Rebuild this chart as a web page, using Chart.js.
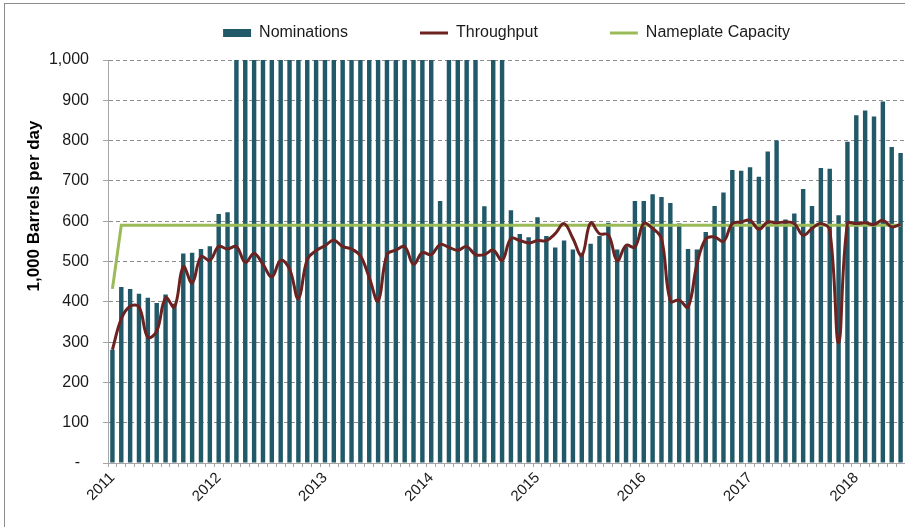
<!DOCTYPE html>
<html lang="en">

<head>
    <meta charset="UTF-8">
    <title>Nominations, Throughput and Nameplate Capacity</title>
    <script src="https://cdn.jsdelivr.net/npm/chart.js"></script>
    <style>
        body { margin: 0; background: #fff; }
    </style>
</head>

<body>
    <canvas id="pipelineChart" width="905" height="527"></canvas>

    <script>
        // monthly, Jan 2011 - Jun 2018
        const years = [2011, 2012, 2013, 2014, 2015, 2016, 2017, 2018];
        const monthNames = ['Jan', 'Feb', 'Mar', 'Apr', 'May', 'Jun', 'Jul', 'Aug', 'Sep', 'Oct', 'Nov', 'Dec'];
        const monthCount = 90;

        // 1,000 bbl/d - bars above 1,000 are cut at the top of the axis
        const nominations = [
            281, 437, 432, 420, 410, 397, 418, 395, 520, 522, 531, 538,
            618, 622, 1000, 1000, 1000, 1000, 1000, 1000, 1000, 1000, 1000, 1000,
            1000, 1000, 1000, 1000, 1000, 1000, 1000, 1000, 1000, 1000, 1000, 1000,
            1000, 650, 1000, 1000, 1000, 1000, 637, 1000, 1000, 627, 568, 560,
            610, 563, 535, 552, 530, 522, 544, 563, 596, 530, 537, 650,
            650, 667, 660, 645, 594, 531, 530, 573, 638, 671, 727, 725,
            734, 710, 773, 800, 604, 619, 680, 638, 732, 730, 615, 797,
            863, 875, 860, 897, 784, 769
        ];
        const throughput = [
            281, 358, 389, 387, 312, 327, 410, 387, 487, 447, 512, 503,
            537, 531, 537, 498, 520, 493, 462, 503, 481, 408, 505, 527,
            539, 553, 537, 531, 514, 460, 402, 517, 528, 537, 493, 522,
            517, 542, 535, 528, 537, 517, 517, 528, 503, 557, 552, 546,
            552, 552, 569, 594, 557, 515, 596, 569, 566, 502, 540, 536,
            594, 582, 557, 402, 404, 387, 493, 556, 561, 550, 594, 598,
            602, 580, 598, 596, 598, 594, 565, 582, 594, 577, 298, 594,
            594, 596, 592, 602, 586, 592
        ];
        const nameplateCapacity = [
            432, 590, 590, 590, 590, 590, 590, 590, 590, 590, 590, 590,
            590, 590, 590, 590, 590, 590, 590, 590, 590, 590, 590, 590,
            590, 590, 590, 590, 590, 590, 590, 590, 590, 590, 590, 590,
            590, 590, 590, 590, 590, 590, 590, 590, 590, 590, 590, 590,
            590, 590, 590, 590, 590, 590, 590, 590, 590, 590, 590, 590,
            590, 590, 590, 590, 590, 590, 590, 590, 590, 590, 590, 590,
            590, 590, 590, 590, 590, 590, 590, 590, 590, 590, 590, 590,
            590, 590, 590, 590, 590, 590
        ];
        const yTicks = [0, 100, 200, 300, 400, 500, 600, 700, 800, 900, 1000];
        const yTitle = '1,000 Barrels per day';

        const months = [];
        years.forEach(y => monthNames.forEach(m => months.push(m + ' ' + y)));
        months.length = monthCount;

        Chart.defaults.font.family = '"Liberation Sans", Arial, sans-serif';
        Chart.defaults.color = '#1a1a1a';

        // extra room under the legend
        const legendGap = {
            id: 'legendGap',
            beforeInit(chart) {
                const fit = chart.legend.fit;
                chart.legend.fit = function () {
                    fit.call(this);
                    this.height += 9;
                };
            }
        };

        // outer frame + y title sitting a bit above the middle like the original
        const frameAndTitle = {
            id: 'frameAndTitle',
            beforeDraw(chart) {
                const ctx = chart.ctx;
                ctx.save();
                ctx.strokeStyle = '#8c8c8c';
                ctx.lineWidth = 1;
                ctx.strokeRect(4.5, 3.5, 1000, 1000);
                ctx.restore();
            },
            afterDraw(chart) {
                const ctx = chart.ctx;
                ctx.save();
                ctx.translate(34, 206);
                ctx.rotate(-Math.PI / 2);
                ctx.font = 'bold 17px "Liberation Sans", Arial, sans-serif';
                ctx.fillStyle = '#000';
                ctx.textAlign = 'center';
                ctx.textBaseline = 'middle';
                ctx.fillText(yTitle, 0, 0);
                ctx.restore();
            }
        };

        const ctx = document.getElementById('pipelineChart').getContext('2d');
        new Chart(ctx, {
            data: {
                labels: months,
                datasets: [{
                    type: 'bar',
                    label: 'Nominations',
                    data: nominations,
                    backgroundColor: '#215968',
                    borderWidth: 0,
                    barPercentage: 0.5,
                    categoryPercentage: 1.0,
                    pointStyle: 'rect',
                    order: 3
                }, {
                    type: 'line',
                    label: 'Throughput',
                    data: throughput,
                    borderColor: '#6b2220',
                    backgroundColor: '#6b2220',
                    borderWidth: 3,
                    pointRadius: 0,
                    pointStyle: 'line',
                    tension: 0.4,
                    order: 1
                }, {
                    type: 'line',
                    label: 'Nameplate Capacity',
                    data: nameplateCapacity,
                    borderColor: '#9bbb59',
                    backgroundColor: '#9bbb59',
                    borderWidth: 3,
                    pointRadius: 0,
                    pointStyle: 'line',
                    tension: 0,
                    order: 2
                }]
            },
            options: {
                responsive: false,
                animation: false,
                devicePixelRatio: 1,
                layout: {
                    // legend sits high (its label padding also sets the vertical offset)
                    padding: { top: -47, left: 0, right: 0, bottom: 0 }
                },
                plugins: {
                    tooltip: { enabled: false },
                    legend: {
                        position: 'top',
                        fullSize: false,
                        labels: {
                            usePointStyle: true,
                            pointStyleWidth: 28,
                            boxHeight: 8,
                            padding: 72,
                            font: { size: 16 },
                            color: '#1a1a1a',
                            sort: (a, b) => a.datasetIndex - b.datasetIndex
                        }
                    }
                },
                scales: {
                    x: {
                        offset: true,
                        afterFit: scale => {
                            scale.height = 64;
                            // plot runs right to the edge of the picture
                            scale.paddingRight = 0;
                        },
                        grid: {
                            offset: true,
                            drawOnChartArea: false,
                            tickLength: 4,
                            color: '#a6a6a6'
                        },
                        border: { display: true, color: '#a6a6a6' },
                        ticks: {
                            autoSkip: false,
                            minRotation: 45,
                            maxRotation: 45,
                            padding: 2,
                            font: { size: 15 },
                            color: '#1a1a1a',
                            callback: function (value) {
                                const label = this.getLabelForValue(value);
                                return label.startsWith('Jan') ? label.slice(4) : '';
                            }
                        }
                    },
                    y: {
                        min: yTicks[0],
                        max: yTicks[yTicks.length - 1],
                        afterFit: scale => { scale.width = 108; },
                        afterBuildTicks: scale => { scale.ticks = yTicks.map(v => ({ value: v })); },
                        grid: {
                            color: '#8c8c8c',
                            tickLength: 5,
                            tickColor: '#a6a6a6',
                            tickBorderDash: []
                        },
                        border: { display: true, color: '#a6a6a6', dash: [4, 3] },
                        ticks: {
                            padding: 14,
                            font: { size: 16 },
                            color: '#1a1a1a',
                            callback: v => v === 0 ? '-  ' : v.toLocaleString('en-US')
                        }
                    }
                }
            },
            plugins: [legendGap, frameAndTitle]
        });
    </script>
</body>

</html>
